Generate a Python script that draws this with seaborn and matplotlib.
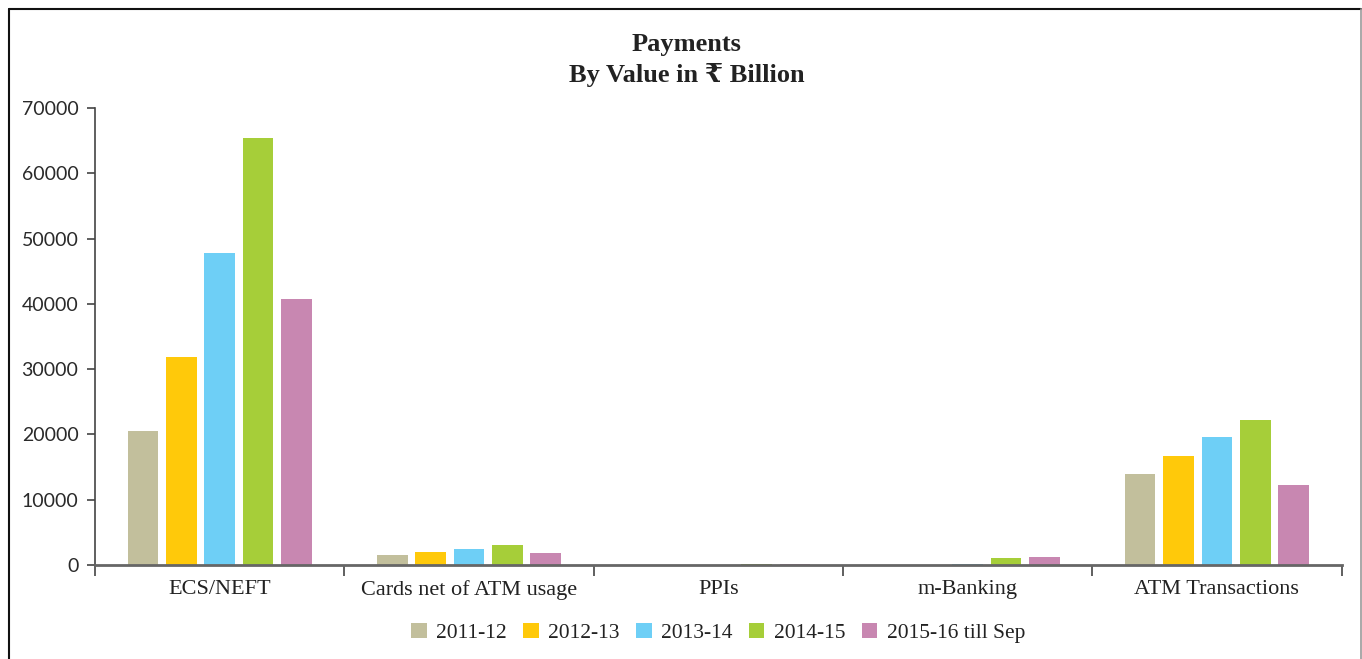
import matplotlib
matplotlib.use("Agg")
import matplotlib.pyplot as plt
import seaborn as sns
import pandas as pd
from matplotlib.lines import Line2D

categories = ["ECS/NEFT", "Cards net of ATM usage", "PPIs", "m-Banking", "ATM Transactions"]
years = ["2011-12", "2012-13", "2013-14", "2014-15", "2015-16 till Sep"]
v_2011_12 = [20500, 1500, 20, 2, 13900]
v_2012_13 = [31900, 2000, 80, 60, 16700]
v_2013_14 = [47800, 2450, 80, 230, 19600]
v_2014_15 = [65400, 3100, 220, 1000, 22200]
v_2015_16 = [40700, 1900, 150, 1300, 12300]
colors = ["#C2BF9C", "#FFC90A", "#6ECFF6", "#A6CE39", "#C887B1"]
yticks = [0, 10000, 20000, 30000, 40000, 50000, 60000, 70000]

rows = []
for yr, vals in zip(years, [v_2011_12, v_2012_13, v_2013_14, v_2014_15, v_2015_16]):
    for c, v in zip(categories, vals):
        rows.append({"Category": c, "Year": yr, "Value": v})
df = pd.DataFrame(rows)

sns.set_theme(style="white")
serif = ["Liberation Serif", "DejaVu Serif", "DejaVu Sans"]
plt.rcParams["font.family"] = serif

fig = plt.figure(figsize=(13.62, 6.59), dpi=100)
ax = fig.add_axes([0.0698, 0.1426, 0.9152, 0.6934])

sns.barplot(data=df, x="Category", y="Value", hue="Year", order=categories,
            hue_order=years, palette=colors, width=0.77, gap=0.2,
            linewidth=0, saturation=1, ax=ax, legend=True)

ax.set_xlim(-0.5, 4.5)
ax.set_ylim(0, 70000)
ax.set_yticks(yticks)
ax.set_yticklabels([str(t) for t in yticks], family=["Lato", "DejaVu Sans"], fontsize=14, color="#2a2a2a")
ax.set_xticks(range(len(categories)))
ax.set_xticklabels(categories, fontsize=16, color="#222222")
ax.set_xticks([i - 0.5 for i in range(len(categories) + 1)], minor=True)
ax.tick_params(axis="x", which="major", length=0, pad=11)
ax.tick_params(axis="x", which="minor", length=8, width=1.2, color="#444444", direction="out", bottom=True)
ax.tick_params(axis="y", which="major", length=6, width=1.2, color="#444444", direction="out", left=True, pad=6)
ax.set_xlabel("")
ax.set_ylabel("")

for s in ["top", "right"]:
    ax.spines[s].set_visible(False)
ax.spines["left"].set_color("#444444")
ax.spines["left"].set_linewidth(1.2)
ax.spines["bottom"].set_color("#666666")
ax.spines["bottom"].set_linewidth(2)

fig.text(0.504, 0.933, "Payments", ha="center", va="center", fontsize=19, fontweight="bold", family=serif, color="#222222")
fig.text(0.504, 0.886, "By Value in \u20b9 Billion", ha="center", va="center", fontsize=19, fontweight="bold", family=serif, color="#222222")

leg = ax.legend(loc="center", bbox_to_anchor=(0.5, -0.148), ncol=5, frameon=False,
                fontsize=15.5, handlelength=0.72, handleheight=0.72, handletextpad=0.45,
                columnspacing=0.75)
for t in leg.get_texts():
    t.set_color("#222222")

# figure frame
fig.add_artist(Line2D([0.0066, 0.0066], [0, 0.9863], transform=fig.transFigure, color="#111111", lw=1.5))
fig.add_artist(Line2D([0.0066, 0.9993], [0.9863, 0.9863], transform=fig.transFigure, color="#111111", lw=1.5))
fig.add_artist(Line2D([0.9993, 0.9993], [0, 0.9863], transform=fig.transFigure, color="#999999", lw=1.2))

fig.savefig("out.png", dpi=100)
